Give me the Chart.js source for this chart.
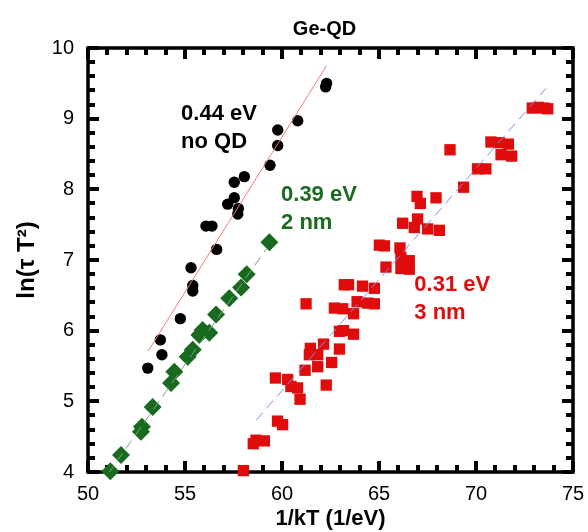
<!DOCTYPE html>
<html>
<head>
<meta charset="utf-8">
<script src="https://cdn.jsdelivr.net/npm/chart.js@4.4.1/dist/chart.umd.min.js"></script>
<style>
  html, body { margin: 0; padding: 0; background: #fff; }
</style>
</head>
<body>
<canvas id="chart" width="588" height="532"></canvas>
<script>
// Axis ranges
const xMin = 50, xMax = 75;
const yMin = 4, yMax = 10;
const xTickStep = 5, yTickStep = 1;
const xMinorStep = 1, yMinorStep = 0.2;

// 0.44 eV, no QD (black circles)
const noQdX = [53.08, 53.73, 53.81, 54.76, 55.31, 55.40, 55.40, 56.08, 56.39, 56.63, 57.20,
               57.54, 57.54, 57.72, 57.75, 58.06, 59.38, 59.78, 59.78, 60.81, 62.25, 62.30];
const noQdY = [5.47, 5.87, 5.66, 6.17, 6.89, 6.64, 6.56, 7.48, 7.48, 7.15, 7.79,
               8.10, 7.88, 7.65, 7.73, 8.18, 8.34, 8.84, 8.62, 8.97, 9.45, 9.50];

// 0.39 eV, 2 nm (green diamonds)
const qd2X = [51.15, 51.70, 52.73, 52.78, 53.33, 54.28, 54.45, 55.14, 55.40, 55.74, 55.91,
              56.25, 56.60, 57.28, 57.89, 58.18, 59.35];
const qd2Y = [4.01, 4.24, 4.57, 4.64, 4.92, 5.26, 5.42, 5.63, 5.73, 5.94, 6.01,
              5.97, 6.23, 6.46, 6.61, 6.80, 7.25];

// 0.31 eV, 3 nm (red squares)
const qd3X = [58.01, 58.52, 58.66, 59.09, 59.77, 60.03, 60.93, 60.46, 60.80, 59.66, 60.29,
              62.28, 61.19, 61.84, 62.56, 61.41, 61.84, 61.46, 62.96, 62.14, 63.69, 62.96,
              63.17, 63.69, 62.70, 63.13, 61.24, 63.87, 64.41, 64.76, 63.21, 63.43, 64.15,
              64.76, 65.36, 66.13, 66.56, 66.13, 66.56, 66.08, 65.02, 65.28, 66.82, 67.51,
              68.11, 66.22, 66.99, 66.96, 67.13, 67.94, 69.36, 70.08, 70.51, 68.66, 70.77,
              71.20, 71.67, 71.29, 71.84, 72.90, 73.20, 73.50, 73.70];
const qd3Y = [4.02, 4.40, 4.45, 4.44, 4.72, 4.67, 5.03, 5.21, 5.19, 5.33, 5.31,
              5.23, 5.44, 5.49, 5.55, 5.66, 5.66, 5.75, 5.74, 5.81, 5.95, 5.99,
              6.00, 6.24, 6.32, 6.31, 6.38, 6.41, 6.39, 6.38, 6.65, 6.65, 6.63,
              6.60, 6.90, 6.88, 6.87, 7.03, 6.99, 7.17, 7.21, 7.20, 7.46, 7.44,
              7.42, 7.52, 7.58, 7.90, 7.80, 7.88, 8.03, 8.29, 8.29, 8.56, 8.67,
              8.66, 8.64, 8.49, 8.47, 9.15, 9.16, 9.15, 9.14];

// Fit lines (end points)
const fitNoQdX = [53.1, 62.3];
const fitNoQdY = [5.71, 9.75];
const fit2X = [51.0, 59.2];
const fit2Y = [3.96, 7.16];
const fit3X = [58.66, 73.61];
const fit3Y = [4.73, 9.43];

// Text labels (data coordinates of first line's baseline)
const labelLines = [['0.44 eV', 'no QD'], ['0.39 eV', '2 nm'], ['0.31 eV', '3 nm']];
const labelX = [54.8, 59.95, 66.82];
const labelY = [8.98, 7.84, 6.56];
const labelColors = ['#000000', '#1b6a1f', '#e00c0c'];

function toPoints(xs, ys) {
    return xs.map((x, i) => ({ x: x, y: ys[i] }));
}

// Frame with inward ticks on all four sides
function drawFrame(chart) {
    const c = chart.ctx;
    const a = chart.chartArea;
    const xs = chart.scales.x;
    const ys = chart.scales.y;
    c.save();
    c.fillStyle = '#000';
    const nx = Math.round((xMax - xMin) / xMinorStep);
    for (let i = 0; i <= nx; i++) {
        const px = Math.round(xs.getPixelForValue(xMin + i * xMinorStep));
        const len = (i % Math.round(xTickStep / xMinorStep) === 0) ? 11 : 7;
        c.fillRect(px - 2, a.bottom - len, 4, len);
        c.fillRect(px - 2, a.top, 4, len);
    }
    const ny = Math.round((yMax - yMin) / yMinorStep);
    for (let i = 0; i <= ny; i++) {
        const py = Math.round(ys.getPixelForValue(yMin + i * yMinorStep));
        const len = (i % Math.round(yTickStep / yMinorStep) === 0) ? 11 : 7;
        c.fillRect(a.left, py - 2, len, 4);
        c.fillRect(a.right - len, py - 2, len, 4);
    }
    c.strokeStyle = '#000';
    c.lineWidth = 3.5;
    c.strokeRect(a.left, a.top, a.right - a.left, a.bottom - a.top);
    c.restore();
}

function drawTexts(chart) {
    const c = chart.ctx;
    const a = chart.chartArea;
    const xs = chart.scales.x;
    const ys = chart.scales.y;
    c.save();
    c.font = 'bold 20px "Liberation Sans", Arial, sans-serif';
    c.textAlign = 'center';
    c.textBaseline = 'alphabetic';
    c.fillStyle = '#000';
    c.fillText('Ge-QD', (a.left + a.right) / 2 - 6, 35);

    c.font = 'bold 22px "Liberation Sans", Arial, sans-serif';
    c.textAlign = 'left';
    labelLines.forEach((lines, i) => {
        c.fillStyle = labelColors[i];
        const px = xs.getPixelForValue(labelX[i]);
        const py = ys.getPixelForValue(labelY[i]);
        lines.forEach((t, j) => c.fillText(t, px, py + j * 28));
    });
    c.restore();
}

const framePlugin = {
    id: 'framePlugin',
    beforeDatasetsDraw(chart) { drawFrame(chart); },
    afterDatasetsDraw(chart) { drawTexts(chart); }
};

const ctx = document.getElementById('chart').getContext('2d');
const chart = new Chart(ctx, {
    type: 'scatter',
    data: {
        datasets: [
            {
                label: 'fit no QD',
                data: toPoints(fitNoQdX, fitNoQdY),
                showLine: true,
                borderColor: '#f07a7a',
                borderWidth: 1,
                pointRadius: 0
            },
            {
                label: 'fit 2 nm',
                data: toPoints(fit2X, fit2Y),
                showLine: true,
                borderColor: '#7e9e88',
                borderWidth: 1,
                borderDash: [10, 6],
                pointRadius: 0
            },
            {
                label: 'fit 3 nm',
                data: toPoints(fit3X, fit3Y),
                showLine: true,
                borderColor: '#8a8ae6',
                borderWidth: 1,
                borderDash: [10, 6],
                pointRadius: 0
            },
            {
                label: 'no QD',
                data: toPoints(noQdX, noQdY),
                pointStyle: 'circle',
                pointRadius: 5.7,
                backgroundColor: '#000',
                borderWidth: 0,
                clip: false
            },
            {
                label: '2 nm',
                data: toPoints(qd2X, qd2Y),
                pointStyle: 'rectRot',
                pointRadius: 9,
                backgroundColor: '#186a1e',
                borderWidth: 0,
                clip: false
            },
            {
                label: '3 nm',
                data: toPoints(qd3X, qd3Y),
                pointStyle: 'rect',
                pointRadius: 8,
                backgroundColor: '#e00c0c',
                borderWidth: 0,
                clip: false
            }
        ]
    },
    options: {
        responsive: false,
        animation: false,
        layout: { padding: { top: 48, right: 15, left: 0, bottom: 0 } },
        plugins: {
            legend: { display: false },
            tooltip: { enabled: false }
        },
        scales: {
            x: {
                type: 'linear',
                min: xMin,
                max: xMax,
                grid: { display: false },
                border: { display: false },
                ticks: {
                    stepSize: xTickStep,
                    padding: 2,
                    color: '#000',
                    font: { family: '"Liberation Sans", Arial, sans-serif', size: 20 }
                },
                title: {
                    display: true,
                    text: '1/kT (1/eV)',
                    color: '#000',
                    padding: { top: 0, bottom: 0 },
                    font: { family: '"Liberation Sans", Arial, sans-serif', size: 22, weight: 'bold' }
                },
                afterFit(scale) { scale.height = 60; }
            },
            y: {
                type: 'linear',
                min: yMin,
                max: yMax,
                grid: { display: false },
                border: { display: false },
                ticks: {
                    stepSize: yTickStep,
                    padding: 6,
                    color: '#000',
                    font: { family: '"Liberation Sans", Arial, sans-serif', size: 20 }
                },
                title: {
                    display: true,
                    text: 'ln(τ T²)',
                    color: '#000',
                    padding: { top: 13, bottom: 0 },
                    font: { family: '"Liberation Sans", Arial, sans-serif', size: 24, weight: 'bold' }
                },
                afterFit(scale) { scale.width = 88; }
            }
        }
    },
    plugins: [framePlugin]
});
</script>
</body>
</html>
